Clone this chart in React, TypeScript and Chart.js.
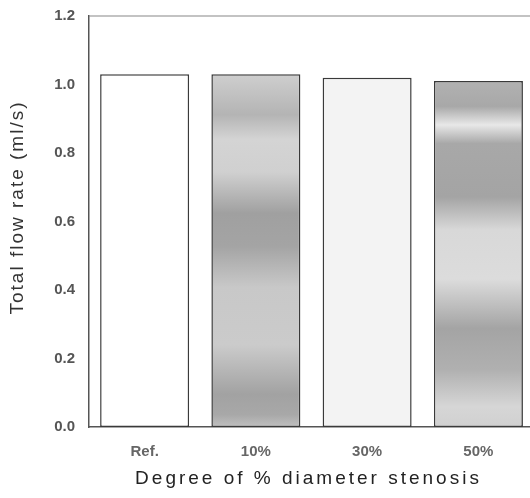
import React, { useEffect, useRef } from "react";
import { Chart, registerables } from "chart.js";

Chart.register(...registerables);

const categories = ["Ref.", "10%", "30%", "50%"];
const flowRate = [1.03, 1.03, 1.02, 1.01];
const yTicks = [0, 0.2, 0.4, 0.6, 0.8, 1.0, 1.2];
const xTitle = "Degree of % diameter stenosis";
const yTitle = "Total flow rate (ml/s)";

const decorations = {
  id: "decorations",
  afterDraw(chart: any) {
    const { ctx, chartArea } = chart;
    ctx.save();
    // top frame line
    ctx.strokeStyle = "#888";
    ctx.lineWidth = 1.2;
    ctx.beginPath();
    ctx.moveTo(chartArea.left, chartArea.top);
    ctx.lineTo(chartArea.right, chartArea.top);
    ctx.stroke();

    // x title
    ctx.fillStyle = "#222";
    ctx.font = "19px 'Liberation Sans'";
    (ctx as any).letterSpacing = "3px";
    ctx.textAlign = "center";
    ctx.textBaseline = "middle";
    ctx.fillText(xTitle, (chartArea.left + chartArea.right) / 2 - 3, chartArea.bottom + 52);

    // y title
    ctx.fillStyle = "#333";
    ctx.font = "19px 'Liberation Sans'";
    (ctx as any).letterSpacing = "2px";
    ctx.translate(18, (chartArea.top + chartArea.bottom) / 2 - 14);
    ctx.rotate(-Math.PI / 2);
    ctx.fillText(yTitle, 0, 0);
    ctx.restore();
  },
};

function makeFill(ctx: any, area: any, index: number) {
  if (!area) return "#ddd";
  if (index === 0) return "#ffffff";
  if (index === 2) return "#f3f3f3";
  const g = ctx.createLinearGradient(0, area.top, 0, area.bottom);
  if (index === 1) {
    g.addColorStop(0.0, "#cfcfcf");
    g.addColorStop(0.14, "#cfcfcf");
    g.addColorStop(0.24, "#b4b4b4");
    g.addColorStop(0.3, "#d4d4d4");
    g.addColorStop(0.38, "#d0d0d0");
    g.addColorStop(0.48, "#a0a0a0");
    g.addColorStop(0.56, "#a4a4a4");
    g.addColorStop(0.66, "#c8c8c8");
    g.addColorStop(0.8, "#cbcbcb");
    g.addColorStop(0.92, "#a2a2a2");
    g.addColorStop(0.97, "#a8a8a8");
    g.addColorStop(1.0, "#c0c0c0");
    return g;
  }
  g.addColorStop(0.0, "#b4b4b4");
  g.addColorStop(0.14, "#b4b4b4");
  g.addColorStop(0.22, "#a8a8a8");
  g.addColorStop(0.265, "#e8e8e8");
  g.addColorStop(0.31, "#a8a8a8");
  g.addColorStop(0.44, "#a4a4a4");
  g.addColorStop(0.52, "#d8d8d8");
  g.addColorStop(0.64, "#dcdcdc");
  g.addColorStop(0.76, "#a4a4a4");
  g.addColorStop(0.86, "#b0b0b0");
  g.addColorStop(0.95, "#d6d6d6");
  g.addColorStop(1.0, "#d0d0d0");
  return g;
}

export default function App() {
  const ref = useRef<HTMLCanvasElement | null>(null);
  useEffect(() => {
    if (!ref.current) return;
    const chart = new Chart(ref.current, {
      type: "bar",
      data: {
        labels: categories,
        datasets: [
          {
            data: flowRate,
            backgroundColor: (c: any) =>
              makeFill(c.chart.ctx, c.chart.chartArea, c.dataIndex),
            borderColor: "#3a3a3a",
            borderWidth: 1.5,
            borderSkipped: false,
            categoryPercentage: 0.8,
            barPercentage: 1.0,
          },
        ],
      },
      options: {
        responsive: false,
        animation: false,
        layout: { padding: { top: 16, right: 6, left: 0, bottom: 0 } },
        plugins: {
          legend: { display: false },
          tooltip: { enabled: false },
        },
        scales: {
          x: {
            grid: { display: false, drawTicks: false },
            border: { display: true, color: "#555", width: 1.5 },
            ticks: {
              color: "#666",
              padding: 16,
              font: { family: "Liberation Sans", size: 15, weight: "bold" },
            },
            afterFit: (s: any) => {
              s.height = 71;
              s.paddingLeft = 0;
              s.paddingRight = 0;
            },
          },
          y: {
            min: 0,
            max: 1.2,
            grid: { display: false, drawTicks: false },
            border: { display: true, color: "#555", width: 1.5 },
            afterBuildTicks: (s: any) => {
              s.ticks = yTicks.map((v) => ({ value: v }));
            },
            ticks: {
              color: "#555",
              padding: 14,
              font: { family: "Liberation Sans", size: 15, weight: "bold" },
              callback: (v: any) => Number(v).toFixed(1),
            },
            afterFit: (s: any) => {
              s.width = 89;
              s.paddingTop = 0;
              s.paddingBottom = 0;
            },
          },
        },
      },
      plugins: [decorations],
    });
    return () => chart.destroy();
  }, []);
  return (
    <div
      style={{
        position: "fixed",
        left: 0,
        top: 0,
        width: 530,
        height: 498,
        overflow: "hidden",
        background: "#fff",
      }}
    >
      <canvas ref={ref} width={540} height={498} />
    </div>
  );
}
